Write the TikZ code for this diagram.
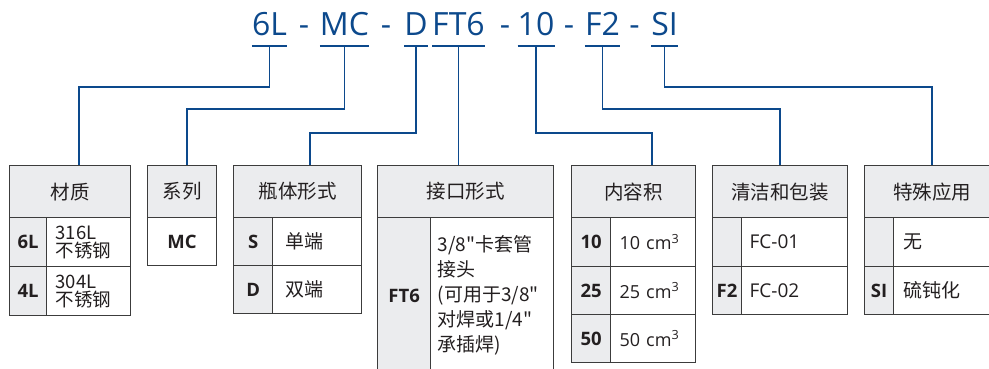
\documentclass[tikz,border=0pt]{standalone}
\usepackage{fontspec}
\setmainfont{Open Sans}
\newfontfamily\cjk{Noto Sans CJK SC}
\definecolor{codeblue}{RGB}{12,73,140}
\definecolor{boxline}{RGB}{60,60,60}
\definecolor{cellgray}{RGB}{235,236,238}
\definecolor{ink}{RGB}{35,31,32}

\begin{document}
\begin{tikzpicture}[x=1pt,y=-1pt,
  part/.style={anchor=base, inner sep=0pt, text=codeblue, font=\fontsize{32}{32}\selectfont},
  link/.style={draw=codeblue, line width=1.6pt},
  hdr/.style={draw=boxline, fill=cellgray, line width=1.2pt, anchor=north west,
    minimum height=52pt, inner sep=0pt, text=ink, font=\cjk\fontsize{19.5}{20}\selectfont},
  codecell/.style={draw=boxline, fill=cellgray, line width=1.2pt, anchor=north west,
    inner sep=0pt, text=ink, font=\bfseries\fontsize{18.5}{19}\selectfont},
  desccell/.style={draw=boxline, fill=white, line width=1.2pt, anchor=north west,
    inner ysep=0pt, inner xsep=10pt, align=left, text=ink, font=\cjk\fontsize{19}{20}\selectfont}]
  \useasboundingbox (0,0) rectangle (989,368);
  \clip (0,0) rectangle (989,368);

  % order code
  \node[part] (p6L) at (269.5,35) {6L};
  \node[part] (s1) at (304,35) {-};
  \node[part] (pMC) at (344.5,35) {MC};
  \node[part] (s2) at (386,35) {-};
  \node[part] (pD) at (416,35) {D};
  \node[part] (pFT) at (458.5,35) {FT6};
  \node[part] (s3) at (505,35) {-};
  \node[part] (p10) at (536,35) {10};
  \node[part] (s4) at (569,35) {-};
  \node[part] (pF2) at (602.5,35) {F2};
  \node[part] (s5) at (634.5,35) {-};
  \node[part] (pSI) at (664.5,35) {SI};
  \foreach \p in {p6L,pMC,pD,pFT,p10,pF2,pSI}
    \draw[link] ([yshift=-11pt]\p.base west) -- ([yshift=-11pt]\p.base east);

  % material
  \node[hdr, minimum width=121pt] (hMat) at (9,165) {材质};
  \node[codecell, minimum width=37pt, minimum height=49pt] (m6L) at (9,217) {6L};
  \node[codecell, minimum width=37pt, minimum height=49pt] (m4L) at (9,266) {4L};
  \node[desccell, inner xsep=9pt, text width=66pt, minimum height=49pt, font=\cjk\fontsize{18.5}{18}\selectfont] (t6L) at (46,217) {316L\\不锈钢};
  \node[desccell, inner xsep=9pt, text width=66pt, minimum height=49pt, font=\cjk\fontsize{18.5}{18}\selectfont] (t4L) at (46,266) {304L\\不锈钢};

  % series
  \node[hdr, minimum width=69pt] (hSer) at (147,165) {系列};
  \node[codecell, fill=white, minimum width=69pt, minimum height=48pt] (mMC) at (147,217) {MC};

  % body
  \node[hdr, minimum width=128pt] (hBody) at (233,165) {瓶体形式};
  \node[codecell, minimum width=39pt, minimum height=48pt] (mS) at (233,217) {S};
  \node[codecell, minimum width=39pt, minimum height=48pt] (mD) at (233,265) {D};
  \node[desccell, inner xsep=13pt, text width=63pt, minimum height=48pt] (tS) at (272,217) {单端};
  \node[desccell, inner xsep=13pt, text width=63pt, minimum height=48pt] (tD) at (272,265) {双端};

  % port
  \node[hdr, minimum width=176pt] (hPort) at (377,165) {接口形式};
  \node[codecell, minimum width=53pt, minimum height=156pt] (mFT) at (377,217) {FT6};
  \node[desccell, inner xsep=7pt, text width=109pt, minimum height=156pt, font=\cjk\fontsize{19}{25}\selectfont] (tFT) at (430,217)
    {3/8"卡套管\\接头\\(可用于3/8"\\对焊或1/4"\\承插焊)};

  % volume
  \node[hdr, minimum width=124pt] (hVol) at (571,165) {内容积};
  \node[codecell, minimum width=39pt, minimum height=49pt] (m10) at (571,217) {10};
  \node[codecell, minimum width=39pt, minimum height=48pt] (m25) at (571,266) {25};
  \node[codecell, minimum width=39pt, minimum height=48pt] (m50) at (571,314) {50};
  \node[desccell, inner xsep=9pt, text width=67pt, minimum height=49pt, font=\fontsize{18}{19}\selectfont] (t10) at (610,217) {10 cm\textsuperscript{3}};
  \node[desccell, inner xsep=9pt, text width=67pt, minimum height=48pt, font=\fontsize{18}{19}\selectfont] (t25) at (610,266) {25 cm\textsuperscript{3}};
  \node[desccell, inner xsep=9pt, text width=67pt, minimum height=48pt, font=\fontsize{18}{19}\selectfont] (t50) at (610,314) {50 cm\textsuperscript{3}};

  % cleaning
  \node[hdr, minimum width=135pt] (hClean) at (712,165) {清洁和包装};
  \node[codecell, minimum width=29pt, minimum height=49pt] (mFa) at (712,217) {};
  \node[codecell, minimum width=29pt, minimum height=48pt] (mF2) at (712,266) {F2};
  \node[desccell, inner xsep=8pt, text width=90pt, minimum height=49pt, font=\fontsize{19}{19}\selectfont] (tFa) at (741,217) {FC-01};
  \node[desccell, inner xsep=8pt, text width=90pt, minimum height=48pt, font=\fontsize{19}{19}\selectfont] (tF2) at (741,266) {FC-02};

  % special
  \node[hdr, minimum width=135pt] (hSpec) at (864,165) {特殊应用};
  \node[codecell, minimum width=29pt, minimum height=49pt] (mSa) at (864,217) {};
  \node[codecell, minimum width=29pt, minimum height=48pt] (mSI) at (864,266) {SI};
  \node[desccell, text width=86pt, minimum height=49pt] (tSa) at (893,217) {无};
  \node[desccell, text width=86pt, minimum height=48pt] (tSI) at (893,266) {硫钝化};

  % connectors
  \draw[link] ([yshift=-11pt]p6L.base) -- ++(0,41) -| ([xshift=70pt]hMat.north west);
  \draw[link] ([yshift=-11pt]pMC.base) -- ++(0,63) -| ([xshift=40pt]hSer.north west);
  \draw[link] ([yshift=-11pt]pD.base) -- ++(0,87) -| ([xshift=77pt]hBody.north west);
  \draw[link] ([yshift=-11pt]pFT.base) -- (pFT.base |- hPort.north);
  \draw[link] ([yshift=-11pt]p10.base) -- ++(0,87) -| ([xshift=81pt]hVol.north west);
  \draw[link] ([yshift=-11pt]pF2.base) -- ++(0,63) -| ([xshift=68pt]hClean.north west);
  \draw[link] ([yshift=-11pt]pSI.base) -- ++(0,41) -| ([xshift=68pt]hSpec.north west);
\end{tikzpicture}
\end{document}
